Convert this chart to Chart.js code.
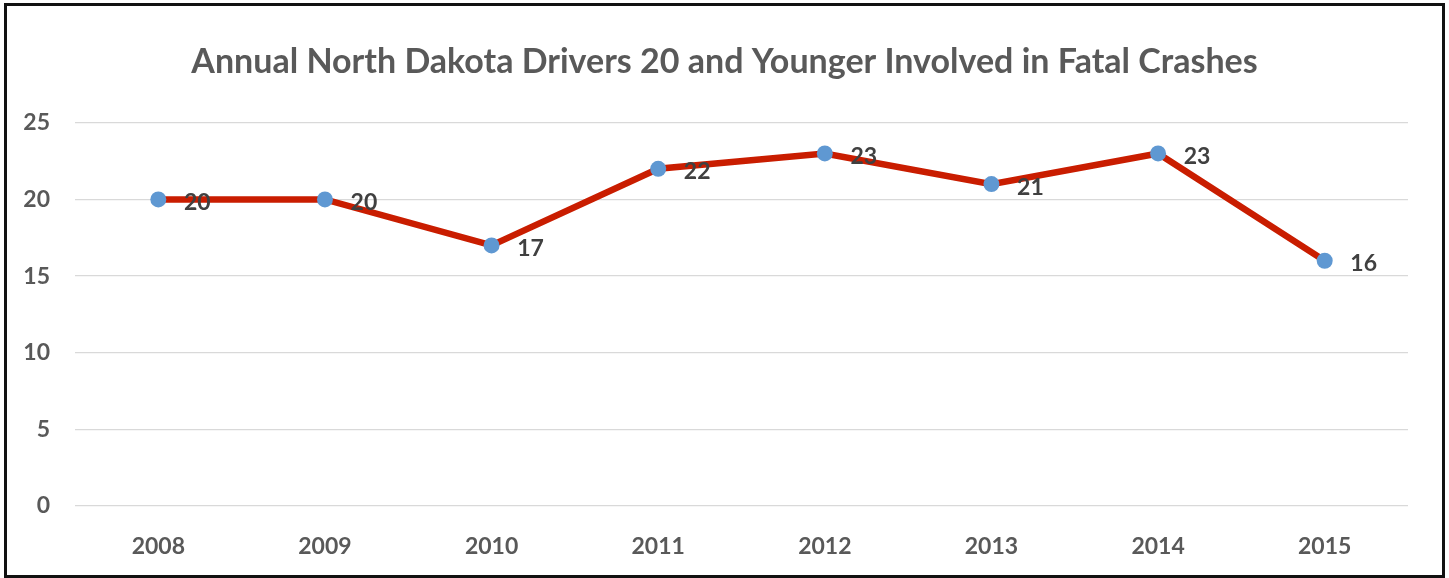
<!DOCTYPE html>
<html>
<head>
<meta charset="utf-8">
<script src="https://cdn.jsdelivr.net/npm/chart.js@4/dist/chart.umd.min.js"></script>
<style>
  body { margin: 0; background: #fff; }
  #wrap { position: relative; width: 1449px; height: 578px; }
  #frame { position: absolute; left: 4px; top: 3px; width: 1441px; height: 575px;
           box-sizing: border-box; border: 3px solid #111; pointer-events: none; }
  canvas { position: absolute; left: 0; top: 0; }
</style>
</head>
<body>
<div id="wrap">
  <canvas id="myChart" width="1449" height="578"></canvas>
  <div id="frame"></div>
</div>
<script>
const years = ['2008', '2009', '2010', '2011', '2012', '2013', '2014', '2015'];
const drivers = [20, 20, 17, 22, 23, 21, 23, 16];
const yTicks = [0, 5, 10, 15, 20, 25];

const fontFam = 'Lato, "Open Sans", sans-serif';

// value labels to the right of each point
const pointLabels = {
  id: 'pointLabels',
  afterDatasetsDraw(chart) {
    const c = chart.ctx;
    const meta = chart.getDatasetMeta(0);
    c.save();
    c.font = 'bold 23px ' + fontFam;
    c.fillStyle = '#404040';
    c.textAlign = 'center';
    c.textBaseline = 'middle';
    meta.data.forEach((pt, i) => {
      c.fillText(String(drivers[i]), pt.x + 39, pt.y + 3);
    });
    c.restore();
  }
};

const ctx = document.getElementById('myChart');

let chart = new Chart(ctx, {
  type: 'line',
  data: {
    labels: years,
    datasets: [{
      label: 'Drivers',
      data: drivers,
      borderColor: '#C91D00',
      borderWidth: 6.5,
      pointRadius: 8,
      pointHoverRadius: 8,
      pointBackgroundColor: '#5F98D2',
      pointBorderColor: '#5F98D2',
      pointBorderWidth: 0,
      tension: 0
    }]
  },
  options: {
    responsive: false,
    animation: false,
    layout: { padding: 0 },
    plugins: {
      legend: { display: false },
      tooltip: { enabled: false },
      title: {
        display: true,
        text: 'Annual North Dakota Drivers 20 and Younger Involved in Fatal Crashes',
        color: '#595959',
        font: { family: fontFam, size: 34, weight: 'bold', lineHeight: 1.2 },
        padding: { top: 42, bottom: 40 }
      }
    },
    scales: {
      x: {
        offset: true,
        afterFit(axis) { axis.height = 72; },
        grid: { display: false, drawTicks: false },
        border: { display: false },
        ticks: {
          color: '#595959',
          padding: 27,
          maxRotation: 0,
          font: { family: fontFam, size: 23, weight: 'bold', lineHeight: 1.2 }
        }
      },
      y: {
        min: 0,
        max: 25,
        afterBuildTicks(axis) { axis.ticks = yTicks.map(v => ({ value: v })); },
        afterFit(axis) { axis.width = 75; },
        grid: { color: '#D9D9D9', lineWidth: 1.3, drawTicks: false },
        border: { display: false },
        ticks: {
          color: '#595959',
          padding: 25,
          font: { family: fontFam, size: 23, weight: 'bold', lineHeight: 1.2 }
        }
      },
      // empty axis that only keeps the right margin
      yRight: {
        position: 'right',
        afterFit(axis) { axis.width = 41; },
        grid: { display: false, drawTicks: false },
        border: { display: false },
        ticks: { display: false }
      }
    }
  },
  plugins: [pointLabels]
});
</script>
</body>
</html>
